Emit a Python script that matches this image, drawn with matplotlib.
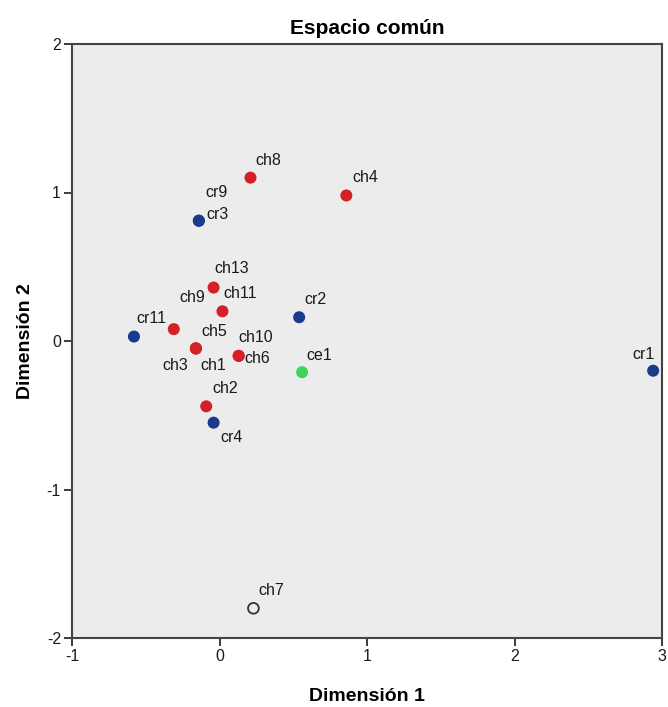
import matplotlib.pyplot as plt

# Coordinates of the common space
names = ['ch8', 'ch4', 'cr3', 'cr9', 'ch13', 'ch11', 'cr2', 'cr11', 'ch9',
         'ch5', 'ch3', 'ch1', 'ch10', 'ch6', 'ce1', 'ch2', 'cr4', 'cr1', 'ch7']
dim1 = [0.21, 0.86, -0.14, -0.14, -0.04, 0.02, 0.54, -0.58, -0.31,
        -0.16, -0.16, -0.16, 0.13, 0.13, 0.56, -0.09, -0.04, 2.94, 0.23]
dim2 = [1.10, 0.98, 0.81, 0.81, 0.36, 0.20, 0.16, 0.03, 0.08,
        -0.05, -0.05, -0.05, -0.10, -0.10, -0.21, -0.44, -0.55, -0.20, -1.80]
group = ['ch', 'ch', 'cr', 'cr', 'ch', 'ch', 'cr', 'cr', 'ch',
         'ch', 'ch', 'ch', 'ch', 'ch', 'ce', 'ch', 'cr', 'cr', 'none']

colors = {'ch': '#d42026', 'cr': '#1b3a8e', 'ce': '#3fd45a'}

# label offsets in pixels (dx right, dy up) from the point
offsets = {
    'ch8': (18, 17), 'ch4': (19, 18), 'cr3': (19, 6), 'cr9': (18, 28),
    'ch13': (18, 19), 'ch11': (18, 18), 'cr2': (16, 18), 'cr11': (17, 18),
    'ch9': (18, 32), 'ch5': (18, 17), 'ch3': (-21, -17), 'ch1': (17, -17),
    'ch10': (17, 18), 'ch6': (19, -3), 'ce1': (17, 17), 'ch2': (19, 18),
    'cr4': (18, -15), 'cr1': (-10, 16), 'ch7': (18, 18),
}

plt.rcParams['font.family'] = ['Liberation Sans', 'DejaVu Sans']
plt.rcParams['axes.unicode_minus'] = False

fig = plt.figure(figsize=(6.68, 7.07), dpi=100)
ax = fig.add_axes([72 / 668, 1 - 638 / 707, 590 / 668, 594 / 707])
ax.set_facecolor('#ececec')

for n, x, y, g in zip(names, dim1, dim2, group):
    if g == 'none':
        ax.scatter(x, y, s=60, facecolor='none', edgecolor='#333333',
                   linewidth=1.3, zorder=3)
    else:
        ax.scatter(x, y, s=75, color=colors[g], edgecolor='none', zorder=3)
    dx, dy = offsets[n]
    ax.annotate(n, (x, y), xytext=(dx, dy), textcoords='offset pixels',
                ha='center', va='center', fontsize=11.5, color='#1a1a1a')

ax.set_xlim(-1, 3)
ax.set_ylim(-2, 2)
ax.set_xticks([-1, 0, 1, 2, 3])
ax.set_yticks([-2, -1, 0, 1, 2])
ax.tick_params(direction='out', length=6, width=1.2, labelsize=11.5,
               colors='#1a1a1a', pad=2)
for sp in ax.spines.values():
    sp.set_linewidth(1.5)
    sp.set_color('#444444')

ax.set_title('Espacio común', fontsize=15, fontweight='bold', pad=7)
ax.set_xlabel('Dimensión 1', fontsize=14, fontweight='bold', labelpad=17)
ax.set_ylabel('Dimensión 2', fontsize=14, fontweight='bold', labelpad=9)

plt.savefig('out.png', dpi=100)
